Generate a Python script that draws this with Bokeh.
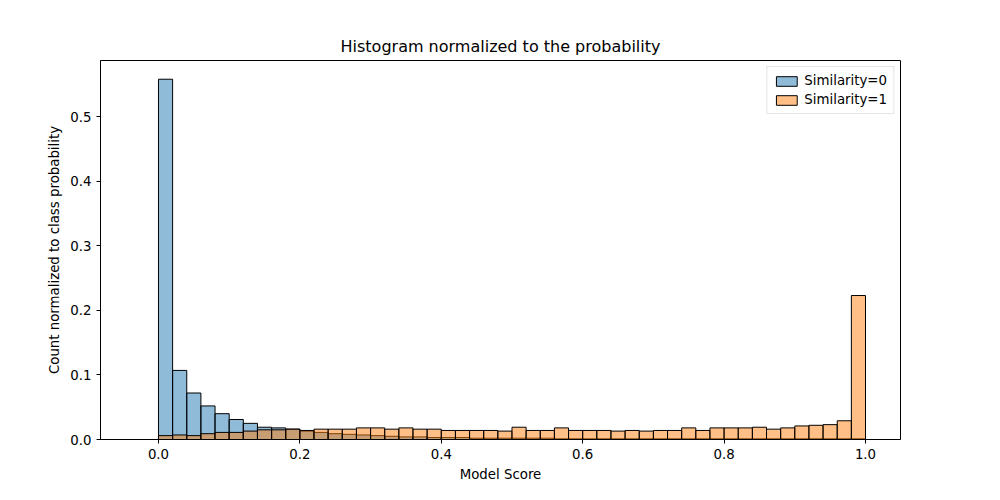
from bokeh.plotting import figure
from bokeh.models import FixedTicker, NumeralTickFormatter, Range1d, Legend, LegendItem
from bokeh.embed import file_html
from bokeh.resources import INLINE
import numpy as np

# 50 bins on [0, 1]
edges = np.linspace(0, 1, 51)
sim0 = [0.558, 0.107, 0.072, 0.052, 0.040, 0.031, 0.025, 0.019, 0.018, 0.016,
        0.013, 0.011, 0.009, 0.008, 0.007, 0.006, 0.005, 0.004, 0.004, 0.003,
        0.003, 0.003, 0.002, 0.002, 0.002, 0.002, 0.002, 0.002, 0.001, 0.001,
        0.001, 0.001, 0.001, 0.001, 0.001, 0.001, 0.001, 0.001, 0.001, 0.001,
        0.001, 0.001, 0.001, 0.001, 0.001, 0.001, 0.001, 0.001, 0.001, 0.001]
sim1 = [0.006, 0.007, 0.006, 0.009, 0.011, 0.011, 0.013, 0.015, 0.015, 0.016,
        0.014, 0.016, 0.016, 0.016, 0.018, 0.018, 0.016, 0.018, 0.016, 0.016,
        0.014, 0.014, 0.014, 0.014, 0.013, 0.019, 0.014, 0.014, 0.018, 0.014,
        0.014, 0.014, 0.013, 0.014, 0.013, 0.014, 0.014, 0.018, 0.014, 0.018,
        0.018, 0.018, 0.019, 0.016, 0.018, 0.021, 0.022, 0.023, 0.029, 0.223]
labels = ["Similarity=0", "Similarity=1"]

p = figure(width=984, height=484, output_backend="svg", toolbar_location=None,
           title="Histogram normalized to the probability",
           x_range=Range1d(-0.082, 1.0495), y_range=Range1d(0, 0.587),
           x_axis_label="Model Score", y_axis_label="Count normalized to class probability",
           min_border_left=100, min_border_right=84, min_border_top=60, min_border_bottom=39)

r0 = p.quad(left=edges[:-1], right=edges[1:], bottom=0, top=sim0,
            fill_color="#1f77b4", fill_alpha=0.5, line_color="black", line_width=1)
r1 = p.quad(left=edges[:-1], right=edges[1:], bottom=0, top=sim1,
            fill_color="#ff7f0e", fill_alpha=0.5, line_color="black", line_width=1)

legend = Legend(items=[LegendItem(label=labels[0], renderers=[r0]),
                       LegendItem(label=labels[1], renderers=[r1])],
                location="top_right", border_line_color="#cccccc", label_text_font_size="10pt",
                label_text_font="DejaVu Sans", label_text_color="black",
                glyph_width=26, glyph_height=12, spacing=4, padding=6, margin=6)
p.add_layout(legend)

p.title.align = "center"
p.title.text_font = "DejaVu Sans"
p.title.text_font_size = "12pt"
p.title.text_font_style = "normal"
p.title.text_color = "black"
p.xgrid.visible = False
p.ygrid.visible = False
p.outline_line_color = "black"
p.xaxis.ticker = FixedTicker(ticks=[0, 0.2, 0.4, 0.6, 0.8, 1.0])
p.yaxis.ticker = FixedTicker(ticks=[0, 0.1, 0.2, 0.3, 0.4, 0.5])
p.xaxis.formatter = NumeralTickFormatter(format="0.0")
p.yaxis.formatter = NumeralTickFormatter(format="0.0")
for ax in (p.xaxis, p.yaxis):
    ax.minor_tick_line_color = None
    ax.major_tick_out = 4
    ax.major_tick_in = 0
    ax.major_label_text_font = "DejaVu Sans"
    ax.major_label_text_font_size = "10pt"
    ax.major_label_text_color = "black"
    ax.axis_label_text_font = "DejaVu Sans"
    ax.axis_label_text_font_size = "10pt"
    ax.axis_label_text_font_style = "normal"
    ax.axis_label_text_color = "black"
    ax.axis_line_color = "black"
    ax.major_tick_line_color = "black"

open("out.html", "w").write(file_html(p, INLINE))
